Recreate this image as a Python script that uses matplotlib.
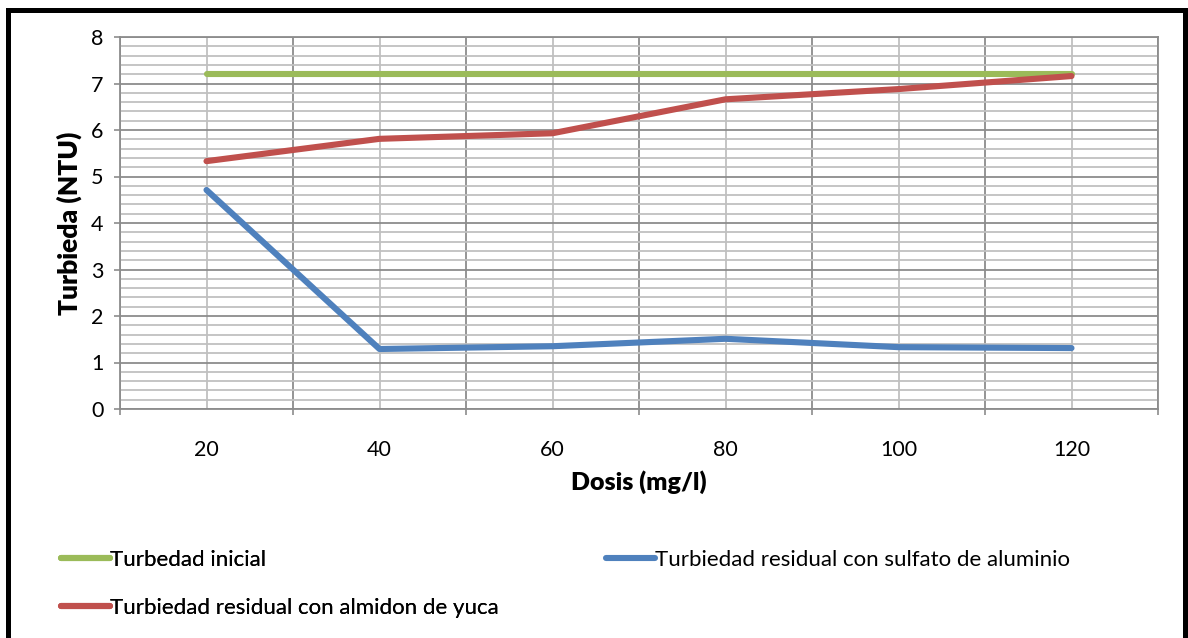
import matplotlib
matplotlib.use("Agg")
import matplotlib.pyplot as plt
from matplotlib.patches import Rectangle
from matplotlib.ticker import MultipleLocator, FixedLocator
import numpy as np

plt.rcParams['font.family'] = ['Lato', 'DejaVu Sans']

dosis = ["20", "40", "60", "80", "100", "120"]
turbedad_inicial = [7.2, 7.2, 7.2, 7.2, 7.2, 7.2]
sulfato_aluminio = [4.71, 1.29, 1.35, 1.51, 1.33, 1.31]
almidon_yuca = [5.33, 5.81, 5.93, 6.66, 6.88, 7.16]

GREEN = "#9BBB59"
BLUE = "#4F81BD"
RED = "#C0504D"
MAJOR_GRID = "#8c8c8c"
MINOR_GRID = "#c0c0c0"

fig = plt.figure(figsize=(11.88, 6.38), dpi=100)
W, H = 1188, 638
ax = fig.add_axes([120 / W, 1 - 409 / H, (1158 - 120) / W, (409 - 37) / H])

x = np.arange(len(dosis))
lw = 4.4
l_ini, = ax.plot(x, turbedad_inicial, color=GREEN, lw=lw, solid_capstyle='round',
                 solid_joinstyle='round', zorder=3)
l_sul, = ax.plot(x, sulfato_aluminio, color=BLUE, lw=lw, solid_capstyle='round',
                 solid_joinstyle='round', zorder=3)
l_alm, = ax.plot(x, almidon_yuca, color=RED, lw=lw, solid_capstyle='round',
                 solid_joinstyle='round', zorder=3)

ax.set_xlim(-0.5, len(dosis) - 0.5)
ax.set_ylim(0, 8)

# category axis: labels at centres, ticks/major gridlines at boundaries
ax.xaxis.set_major_locator(FixedLocator(np.arange(-0.5, len(dosis), 1.0)))
ax.xaxis.set_minor_locator(FixedLocator(x))
ax.set_xticklabels([""] * (len(dosis) + 1))
ax.set_xticklabels(dosis, minor=True)
ax.tick_params(axis='x', which='major', direction='out', length=4, width=1.2,
               color=MAJOR_GRID)
ax.tick_params(axis='x', which='minor', length=0, pad=22, labelsize=15.5)

ax.yaxis.set_major_locator(MultipleLocator(1))
ax.yaxis.set_minor_locator(MultipleLocator(0.2))
ax.tick_params(axis='y', which='major', direction='out', length=4, width=1.2,
               color=MAJOR_GRID, pad=8, labelsize=15.5)
ax.tick_params(axis='y', which='minor', length=0)

ax.grid(True, which='major', color=MAJOR_GRID, lw=1.3, zorder=1)
ax.grid(True, which='minor', color=MINOR_GRID, lw=1.3, zorder=1)
ax.set_axisbelow(True)
for s in ax.spines.values():
    s.set_color(MAJOR_GRID)
    s.set_linewidth(1.3)

ax.set_xlabel("Dosis (mg/l)", fontsize=18, fontweight='heavy', labelpad=8)
ax.set_ylabel("Turbieda (NTU)", fontsize=19, fontweight='heavy', labelpad=6)

# legend laid out in two columns below the plot
leg1 = fig.legend([l_ini, l_alm], ["Turbedad inicial", "Turbiedad residual con almidon de yuca"],
                  loc='upper left', bbox_to_anchor=(52 / W, 1 - 541 / H), frameon=False,
                  fontsize=16, handlelength=2.2, handletextpad=0.0,
                  labelspacing=1.25, borderaxespad=0)
leg2 = fig.legend([l_sul], ["Turbiedad residual con sulfato de aluminio"],
                  loc='upper left', bbox_to_anchor=(597 / W, 1 - 541 / H), frameon=False,
                  fontsize=16, handlelength=2.2, handletextpad=0.0, borderaxespad=0)
fig.add_artist(leg1)

# outer chart border
fig.add_artist(Rectangle((7.5 / W, -0.05), (1185 - 7.5) / W, 1.05 - 10 / H,
                         transform=fig.transFigure, fill=False, ec='black', lw=3.6))

fig.savefig("out.png", dpi=100)
